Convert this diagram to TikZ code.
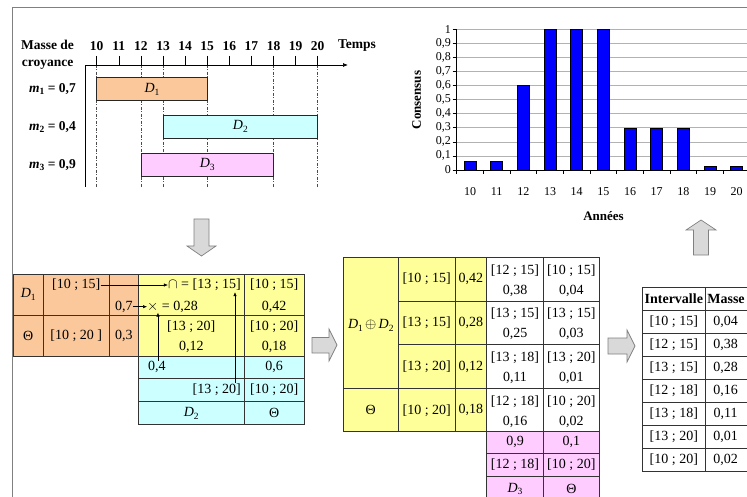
\documentclass[tikz,border=0pt]{standalone}
\usepackage{fontspec}
\setmainfont{Liberation Serif}
\usetikzlibrary{arrows.meta, calc}
\usepackage{xcolor}
\definecolor{dsorange}{HTML}{FAC89B}
\definecolor{dscyan}{HTML}{CCFFFF}
\definecolor{dspink}{HTML}{FFCCFF}
\definecolor{dsyellow}{HTML}{FFFF99}
\definecolor{dsblue}{HTML}{0000FF}
\definecolor{dsframe}{HTML}{808080}
\definecolor{dsarrow}{HTML}{D9D9D9}
\newcommand{\symsub}[2]{\textit{#1}\raisebox{-0.45ex}{\fontsize{9.5}{9.5}\selectfont #2}}

\begin{document}
\begin{tikzpicture}[x=1pt, y=-1pt,
    every node/.style={inner sep=0pt, font=\fontsize{14}{15}\selectfont},
    hd/.style={font=\fontsize{13.5}{17}\selectfont\bfseries},
    chl/.style={font=\fontsize{13}{14}\selectfont\bfseries},
    chnum/.style={font=\fontsize{12}{13}\selectfont},
    tab/.style={draw=black!80, line width=0.6pt},
    tbox/.style={draw=black!85, line width=0.6pt},
    guide/.style={draw=black!70, line width=0.5pt, dash pattern=on 3pt off 1.5pt on 1pt off 1.5pt},
    bar/.style={draw=black, fill=dsblue, line width=0.5pt},
    gridl/.style={draw=black!30, line width=0.6pt},
    blk/.style={draw=black!50, fill=dsarrow, line width=0.7pt},
    ar/.style={-{Latex[length=4pt, width=3.5pt]}, line width=0.6pt}]
  \useasboundingbox (0,0) rectangle (747,497);
  \clip (0,0) rectangle (747,497);
  \draw[dsframe, line width=1pt] (12,497) -- (12,8) -- (747,8);

  % masses et intervalles
  \node[hd, align=center] (mc) at (47.5,55) {Masse de\\croyance};
  \node[hd, anchor=west] (temps) at (338,46) {Temps};
  \foreach \t in {10,...,20} {
    \node[hd] (t\t) at ({96.7+(\t-10)*22.1},46) {\t};
    \draw[line width=0.6pt] ({96.7+(\t-10)*22.1},56) -- ++(0,9);
  }
  \foreach \t in {10,12,13,15,18,20}
    \draw[guide] ({96.7+(\t-10)*22.1},65) -- ({96.7+(\t-10)*22.1},187);
  \draw[line width=0.7pt, -{Latex[length=5pt, width=4pt]}] (85,187) -- (85,65) -- (348,65);
  \draw[tbox, fill=dsorange] (96.7,77.7) rectangle (207.2,100.7) node[midway] (d1) {\symsub{D}{1}};
  \draw[tbox, fill=dscyan] (163,115) rectangle (317.7,138) node[midway] (d2) {\symsub{D}{2}};
  \draw[tbox, fill=dspink] (140.9,153) rectangle (273.5,176) node[midway] (d3) {\symsub{D}{3}};
  \node[hd, anchor=east] (m1) at (76,89) {\symsub{m}{1} = 0,7};
  \node[hd, anchor=east] (m2) at (76,127) {\symsub{m}{2} = 0,4};
  \node[hd, anchor=east] (m3) at (76,165) {\symsub{m}{3} = 0,9};

  % consensus
  \foreach \k in {1,...,10}
    \draw[gridl] (456.7,{170-\k*14.07}) -- (747,{170-\k*14.07});
  \foreach \v [count=\i from 0] in {0.06,0.06,0.6,1,1,1,0.3,0.3,0.3,0.03,0.03}
    \draw[bar] ({464+\i*26.67},170) rectangle ({476+\i*26.67},{170-\v*140.7});
  \draw[line width=0.7pt] (456.7,29.3) -- (456.7,170) -- (747,170);
  \foreach \k in {0,...,10}
    \draw[line width=0.6pt] (452.7,{170-\k*14.07}) -- (456.7,{170-\k*14.07});
  \foreach \i in {0,...,11}
    \draw[line width=0.6pt] ({456.7+\i*26.67},170) -- ++(0,4);
  \node[chnum, anchor=east] (y0) at (451,170) {0};
  \foreach \k in {1,...,9}
    \node[chnum, anchor=east] (y\k) at (451,{170-\k*14.07}) {0,\k};
  \node[chnum, anchor=east] (y10) at (451,29.3) {1};
  \foreach \t [count=\i from 0] in {10,...,20}
    \node[chnum] (a\t) at ({470+\i*26.67},191.7) {\t};
  \node[chl] (annees) at (603.5,216) {Années};
  \node[chl, rotate=90] (cons) at (416.7,100) {Consensus};

  % fleches
  \draw[blk] (194,219) -- (209,219) -- (209,246) -- (216,246) -- (201.5,256) -- (187,246) -- (194,246) -- cycle;
  \draw[blk] (693.5,255) -- (708.5,255) -- (708.5,230) -- (716,230) -- (701,220) -- (686,230) -- (693.5,230) -- cycle;
  \draw[blk] (312,337.5) -- (329,337.5) -- (329,329) -- (337,345) -- (329,361) -- (329,353) -- (312,353) -- cycle;
  \draw[blk] (608,338) -- (627,338) -- (627,330) -- (635,346) -- (627,362) -- (627,354) -- (608,354) -- cycle;

  % D1 et D2
  \fill[dsorange] (13.3,274.3) rectangle (138.3,356);
  \fill[dsyellow] (138.3,274.3) rectangle (304,356);
  \fill[dscyan] (138.3,356) rectangle (304,424.3);
  \draw[tab] (13.3,274.3) -- (304,274.3) -- (304,424.3) -- (138.3,424.3) -- (138.3,356) -- (13.3,356) -- cycle;
  \draw[tab] (13.3,315.7) -- (304,315.7) (43.3,274.3) -- (43.3,356) (109.3,274.3) -- (109.3,356)
    (138.3,274.3) -- (138.3,356) (244.3,274.3) -- (244.3,424.3)
    (138.3,356) -- (304,356) (138.3,378.3) -- (304,378.3) (138.3,401.7) -- (304,401.7);
  \node (l1d) at (28.3,294) {\symsub{D}{1}};
  \node (l1015) at (76.3,285) {[10 ; 15]};
  \node (l07) at (123.8,306.7) {0,7};
  \node (l1th) at (28.3,336) {Θ};
  \node (l1020) at (76.3,336) {[10 ; 20 ]};
  \node (l03) at (123.8,336) {0,3};
  \node[anchor=east] (inter) at (241,285) {$\cap$ = [13 ; 15]};
  \node[anchor=west] (prod) at (147,306.7) {$\times$ = 0,28};
  \node (y1320) at (191.3,326.7) {[13 ; 20]};
  \node (y012) at (191.3,346.7) {0,12};
  \node (y1015) at (274.2,285) {[10 ; 15]};
  \node (y042) at (274.2,306.7) {0,42};
  \node (y1020) at (274.2,326.7) {[10 ; 20]};
  \node (y018) at (274.2,346.7) {0,18};
  \node[anchor=west] (c04) at (148,367) {0,4};
  \node (c06) at (274.2,367) {0,6};
  \node[anchor=east] (c1320) at (241,390) {[13 ; 20]};
  \node (c1020) at (274.2,390) {[10 ; 20]};
  \node (c2d) at (191.3,413) {\symsub{D}{2}};
  \node (c2th) at (274.2,413) {Θ};
  \draw[ar] (l1015.east) -- (l1015.east -| inter.west);
  \draw[ar] (l07.east) -- (l07.east -| prod.west);
  \draw[ar] ([xshift=1pt]c04.north) -- ([xshift=1pt]c04.north |- prod.south);
  \draw[ar] ([xshift=-6pt, yshift=1pt]c1320.north east) -- ([xshift=-6pt, yshift=-1pt]inter.south east);

  % D1+D2 et D3
  \fill[dsyellow] (343.3,257.3) rectangle (486.7,431);
  \fill[dspink] (486.7,431) rectangle (599.3,500);
  \draw[tab] (343.3,257.3) rectangle (599.3,431);
  \draw[tab] (398.3,257.3) -- (398.3,431) (455,257.3) -- (455,431) (486.7,257.3) -- (486.7,500)
    (543.3,257.3) -- (543.3,500) (599.3,431) -- (599.3,500);
  \draw[tab] (398.3,301) -- (599.3,301) (398.3,344.7) -- (599.3,344.7) (343.3,388.4) -- (599.3,388.4)
    (486.7,453.3) -- (599.3,453.3) (486.7,476.7) -- (599.3,476.7);
  \node (sum) at (370.8,325) {\symsub{D}{1}\,$\oplus$\,\symsub{D}{2}};
  \node (sumth) at (370.8,410) {Θ};
  \foreach \r/\a/\b in {0/{[10 ; 15]}/{0,42}, 1/{[13 ; 15]}/{0,28}, 2/{[13 ; 20]}/{0,12}, 3/{[10 ; 20]}/{0,18}} {
    \node (si\r) at (426.7,{279.2+\r*43.7}) {\a};
    \node (sm\r) at (470.8,{279.2+\r*43.7}) {\b};
  }
  \foreach \r/\a/\b/\c/\d in {0/{[12 ; 15]}/{0,38}/{[10 ; 15]}/{0,04}, 1/{[13 ; 15]}/{0,25}/{[13 ; 15]}/{0,03},
      2/{[13 ; 18]}/{0,11}/{[13 ; 20]}/{0,01}, 3/{[12 ; 18]}/{0,16}/{[10 ; 20]}/{0,02}} {
    \node (ri\r) at (515,{270.3+\r*43.7}) {\a};
    \node (rm\r) at (515,{290.5+\r*43.7}) {\b};
    \node (qi\r) at (571.3,{270.3+\r*43.7}) {\c};
    \node (qm\r) at (571.3,{290.5+\r*43.7}) {\d};
  }
  \node (p09) at (515,442) {0,9};
  \node (p01) at (571.3,442) {0,1};
  \node (p1218) at (515,465) {[12 ; 18]};
  \node (p1020) at (571.3,465) {[10 ; 20]};
  \node (p3d) at (515,489) {\symsub{D}{3}};
  \node (p3th) at (571.3,489) {Θ};

  % resultat
  \draw[tab] (642.7,287) rectangle (748,471);
  \draw[tab] (705,287) -- (705,471);
  \foreach \y in {310,333,...,448}
    \draw[tab] (642.7,\y) -- (748,\y);
  \node[font=\fontsize{14}{15}\selectfont\bfseries] (hint) at (673.8,298.5) {Intervalle};
  \node[font=\fontsize{14}{15}\selectfont\bfseries] (hmas) at (726,298.5) {Masse};
  \foreach \a/\b [count=\i from 0] in {{[10 ; 15]}/{0,04}, {[12 ; 15]}/{0,38}, {[13 ; 15]}/{0,28},
      {[12 ; 18]}/{0,16}, {[13 ; 18]}/{0,11}, {[13 ; 20]}/{0,01}, {[10 ; 20]}/{0,02}} {
    \node (fi\i) at (673.8,{321.5+\i*23}) {\a};
    \node (fm\i) at (725.7,{321.5+\i*23}) {\b};
  }
\end{tikzpicture}
\end{document}
